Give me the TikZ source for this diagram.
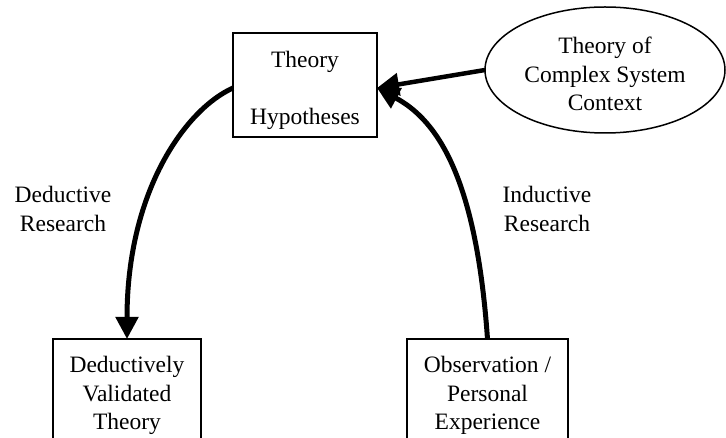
\documentclass[tikz,border=0pt]{standalone}
\usepackage{fontspec}
\setmainfont{Liberation Serif}
\usetikzlibrary{arrows.meta,shapes.geometric}
\begin{document}
\begin{tikzpicture}[x=1pt,y=-1pt,
  frame/.style={draw, line width=1.8pt, inner sep=0pt, outer sep=0pt},
  caption/.style={inner sep=0pt, anchor=north, align=center,
    font=\fontsize{23.5}{28.5}\selectfont},
  flow/.style={line width=5pt, -{Triangle[length=22pt,width=22pt]}}]
\useasboundingbox (0,0) rectangle (726,438);
\clip (0,0) rectangle (726,438);

% boxes and the ellipse
\node[frame, minimum width=144pt, minimum height=104pt] (hyp) at (305,85) {};
\node[frame, ellipse, line width=1.5pt, minimum width=240pt, minimum height=126pt] (ctx) at (605,70) {};
\node[frame, minimum width=148pt, minimum height=131pt] (dvt) at (127,404.5) {};
\node[frame, minimum width=161pt, minimum height=131pt] (obs) at (487.5,404.5) {};

% texts
\node[caption] (hyptext) at (305,51) {Theory\\[28.5pt]Hypotheses};
\node[caption] (ctxtext) at (605,37) {Theory of\\Complex System\\Context};
\node[caption] (dvttext) at (127,356) {Deductively\\Validated\\Theory};
\node[caption] (obstext) at (487.5,356) {Observation /\\Personal\\Experience};
\node[caption] (dedlabel) at (63,186) {Deductive\\Research};
\node[caption] (indlabel) at (547,186) {Inductive\\Research};

% connectors
\draw[flow, line width=4.5pt] (ctx.west) -- ([yshift=-3pt]hyp.east);
\draw[flow] ([yshift=-3pt]hyp.west)
  to[out=204, in=90, out looseness=0.47, in looseness=1.41] (dvt.north);
\draw[flow] (obs.north)
  to[out=94, in=-28, out looseness=1.49, in looseness=0.65] ([yshift=-3pt]hyp.east);
\end{tikzpicture}
\end{document}
